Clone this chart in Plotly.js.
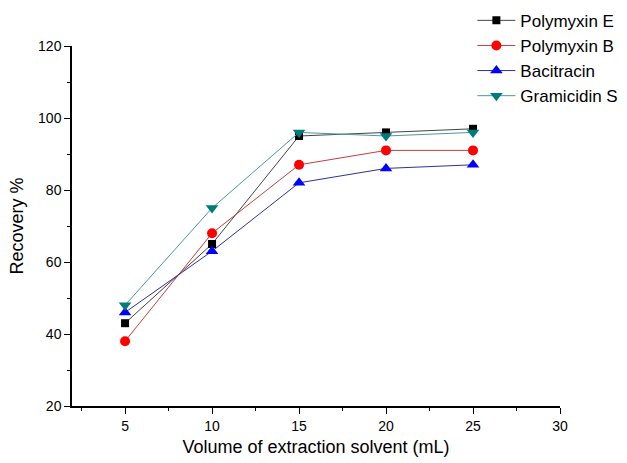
<!DOCTYPE html>
<html>
<head>
<meta charset="utf-8">
<script src="https://cdn.plot.ly/plotly-3.0.1.min.js"></script>
<style>html,body{margin:0;padding:0;background:#fff;}#chart{width:627px;height:463px;}</style>
</head>
<body>
<div id="chart"></div>
<script>
const volume = [5, 10, 15, 20, 25];
const polymyxinE = [43, 65, 95, 96, 97];
const polymyxinB = [38, 68, 87, 91, 91];
const bacitracin = [46, 63, 82, 86, 87];
const gramicidinS = [48, 75, 96, 95, 96];

function tr(name, y, color, lineColor, symbol, size) {
  return {
    x: volume, y: y, name: name, type: 'scatter', mode: 'lines+markers',
    line: {color: lineColor, width: 1},
    marker: {color: color, symbol: symbol, size: size, line: {width: 0}}
  };
}

const data = [
  tr('Polymyxin E', polymyxinE, '#000000', '#444444', 'square', 8),
  tr('Polymyxin B', polymyxinB, '#ff0000', '#c04040', 'circle', 10),
  tr('Bacitracin', bacitracin, '#0000ff', '#3030a0', 'triangle-up', 11),
  tr('Gramicidin S', gramicidinS, '#007b7b', '#4a9a9a', 'triangle-down', 11)
];

const layout = {
  width: 627, height: 463,
  margin: {l: 72, r: 2, t: 2, b: 57},
  paper_bgcolor: '#fff', plot_bgcolor: '#fff',
  font: {family: 'Liberation Sans, Arial, sans-serif', color: '#000', size: 14},
  showlegend: true,
  legend: {x: 0.724, y: 0.998, xanchor: 'left', yanchor: 'top', font: {size: 17}, itemwidth: 38, tracegroupgap: 0, bgcolor: 'rgba(0,0,0,0)'},
  xaxis: {
    domain: [0, 488 / 553],
    range: [1.95, 30], tickvals: [5, 10, 15, 20, 25, 30],
    showgrid: false, zeroline: false, showline: true, linecolor: '#000000', linewidth: 1.5,
    ticks: 'outside', ticklen: 6, tickcolor: '#000', tickwidth: 1,
    tickfont: {size: 14},
    minor: {dtick: 2.5, ticks: 'outside', ticklen: 3},
    title: {text: 'Volume of extraction solvent (mL)', font: {size: 18}, standoff: 8}
  },
  yaxis: {
    domain: [0, 360 / 404],
    range: [20, 120], tickvals: [20, 40, 60, 80, 100, 120],
    showgrid: false, zeroline: false, showline: true, linecolor: '#000000', linewidth: 1.5,
    ticks: 'outside', ticklen: 6, tickcolor: '#000', tickwidth: 1,
    tickfont: {size: 14},
    minor: {dtick: 10, ticks: 'outside', ticklen: 3},
    title: {text: 'Recovery %', font: {size: 18}, standoff: 10}
  }
};

Plotly.newPlot('chart', data, layout, {displayModeBar: false});
</script>
</body>
</html>
